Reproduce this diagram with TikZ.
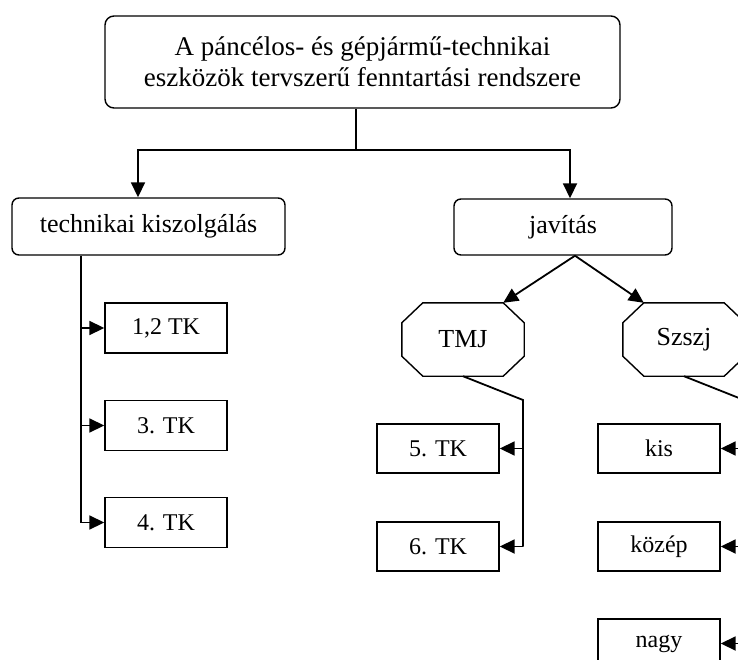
\documentclass[tikz,border=0pt]{standalone}
\usepackage{fontspec}
\setmainfont{Liberation Serif}
\usetikzlibrary{arrows.meta,positioning}

\tikzset{
	box/.style={draw, line width=1.4pt, minimum width=122pt, minimum height=50pt, inner sep=0pt, font=\fontsize{24pt}{29pt}\selectfont},
	rbox/.style={box, rounded corners=7pt, font=\fontsize{26pt}{31pt}\selectfont},
	oct/.style={minimum width=122pt, minimum height=73pt, inner sep=0pt, font=\fontsize{26pt}{31pt}\selectfont},
	conn/.style={line width=1.8pt},
	arr/.style={conn, -{Triangle[length=15pt,width=14pt]}}
}
% chamfered outline round a node
\newcommand\octagon[1]{\draw[line width=1.4pt] ([xshift=21pt]#1.north west) -- ([xshift=-21pt]#1.north east) -- ([yshift=-20pt]#1.north east) -- ([yshift=20pt]#1.south east) -- ([xshift=-21pt]#1.south east) -- ([xshift=21pt]#1.south west) -- ([yshift=20pt]#1.south west) -- ([yshift=-20pt]#1.north west) -- cycle;}

\begin{document}
\begin{tikzpicture}[x=1pt, y=-1pt]
	\useasboundingbox (0,0) rectangle (738,660);
	\node (Rendszer) [rbox, rounded corners=9pt, minimum width=515pt, minimum height=92pt, align=center, font=\fontsize{27pt}{31pt}\selectfont] at (362.5,62) {A páncélos- és gépjármű-technikai\\eszközök tervszerű fenntartási rendszere};
	\node (Kiszolg) [rbox, minimum width=273pt, minimum height=57pt] at (148.5,226.5) {technikai kiszolgálás};
	\node (Javitas) [rbox, minimum width=218pt, minimum height=56pt] at (563,227) {javítás};
	% technikai kiszolgalas
	\node (TKa) [box] at (166,328) {1,2 TK};
	\node (TKb) [box, node distance=97.5pt, below of=TKa] {3. TK};
	\node (TKc) [box, node distance=97pt, below of=TKb] {4. TK};
	% javitas
	\node (TMJ) [oct] at (463,339.5) {TMJ};
	\node (Szszj) [oct, node distance=221pt, right of=TMJ] {Szszj};
	\octagon{TMJ}
	\octagon{Szszj}
	\node (TKd) [box, minimum height=49pt] at (438,448.5) {5. TK};
	\node (TKe) [box, minimum height=49pt, node distance=98pt, below of=TKd] {6. TK};
	\node (Kis) [box, minimum height=49pt] at (659,448.5) {kis};
	\node (Kozep) [box, minimum height=49pt, node distance=98pt, below of=Kis] {közép};
	\node (Nagy) [box, minimum height=49pt, node distance=97pt, below of=Kozep] {nagy};
	\coordinate (Elag) at (356,150);
	\coordinate (TKbus) at (81,0);
	\coordinate (TMJbus) at (523,400);
	\coordinate (Szszjbus) at (744,400);
	\draw[conn] (Elag |- Rendszer.south) -- (Elag);
	\draw[arr] (Elag) -| ([xshift=-10.5pt]Kiszolg.north);
	\draw[arr] (Elag) -| ([xshift=7pt]Javitas.north);
	\draw[arr] ([xshift=12pt]Javitas.south) -- ([xshift=-21pt]TMJ.north east);
	\draw[arr] ([xshift=12pt]Javitas.south) -- ([xshift=21pt]Szszj.north west);
	\draw[conn] (TKbus |- Kiszolg.south) -- (TKbus |- TKc.west);
	\foreach \n in {TKa,TKb,TKc}
		\draw[arr] (TKbus |- \n.west) -- (\n.west);
	\draw[conn] (TMJ.south) -- (TMJbus) -- (TMJbus |- TKe.east);
	\foreach \n in {TKd,TKe}
		\draw[arr] (TMJbus |- \n.east) -- (\n.east);
	\draw[conn] (Szszj.south) -- (Szszjbus) -- (Szszjbus |- Nagy.east);
	\foreach \n in {Kis,Kozep,Nagy}
		\draw[arr] (Szszjbus |- \n.east) -- (\n.east);
\end{tikzpicture}
\end{document}
